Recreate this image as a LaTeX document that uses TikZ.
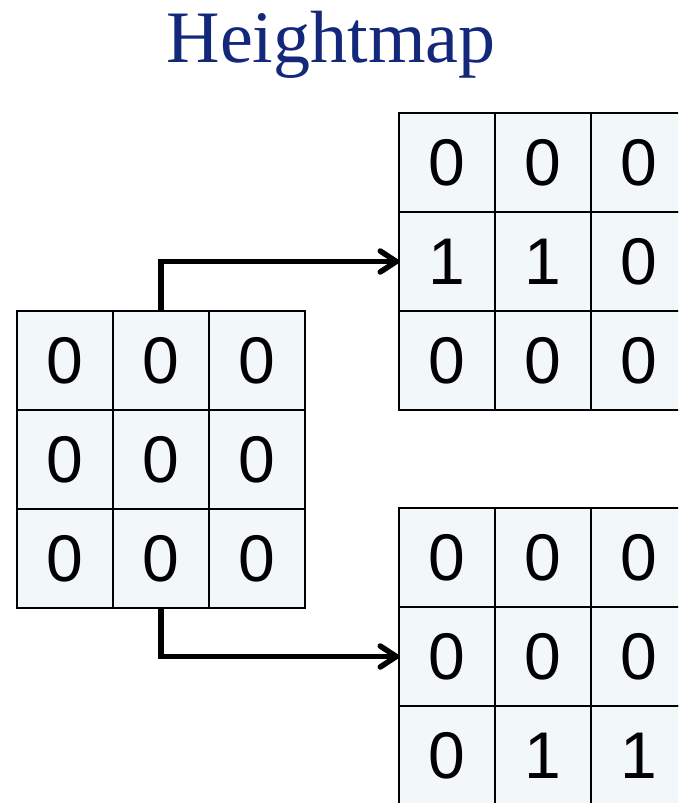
\documentclass[tikz,border=0pt]{standalone}
\usepackage{fontspec}
\setmainfont{Liberation Serif}
\newfontfamily\cellfont{Liberation Sans}
\usetikzlibrary{arrows.meta}
\definecolor{titleblue}{HTML}{13287A}
\definecolor{cellfill}{HTML}{F2F7FA}
\tikzset{
  cell/.style={draw=black, line width=1.8pt, fill=cellfill, inner sep=0pt, outer sep=0pt,
    minimum width=96pt, minimum height=99pt, font=\cellfont\fontsize{66}{66}\selectfont},
  conn/.style={line width=5.5pt, line cap=butt, line join=miter,
    -{Straight Barb[length=16pt, width=21pt, round]}},
  heading/.style={text=titleblue, font=\fontsize{74}{74}\selectfont, inner sep=0pt}
}
\begin{document}
\begin{tikzpicture}[x=1pt, y=-1pt]
  \useasboundingbox (0,0) rectangle (678,803);
  \clip (0,0) rectangle (678,803);

  \node[heading, anchor=base] (title) at (331,62) {Heightmap};

  % input heightmap (left)
  \foreach \r/\row in {1/{0,0,0}, 2/{0,0,0}, 3/{0,0,0}} {
    \foreach \v [count=\c] in \row {
      \node[cell] (L-\r-\c) at ({17+96*(\c-0.5)}, {311+99*(\r-0.5)}) {\v};
    }
  }

  % upper result grid
  \foreach \r/\row in {1/{0,0,0}, 2/{1,1,0}, 3/{0,0,0}} {
    \foreach \v [count=\c] in \row {
      \node[cell] (T-\r-\c) at ({399+96*(\c-0.5)}, {113+99*(\r-0.5)}) {\v};
    }
  }

  % lower result grid
  \foreach \r/\row in {1/{0,0,0}, 2/{0,0,0}, 3/{0,1,1}} {
    \foreach \v [count=\c] in \row {
      \node[cell] (B-\r-\c) at ({399+96*(\c-0.5)}, {508+99*(\r-0.5)}) {\v};
    }
  }

  \draw[conn] (L-1-2.north) |- (T-2-1.west);
  \draw[conn] (L-3-2.south) |- (B-2-1.west);
\end{tikzpicture}
\end{document}
